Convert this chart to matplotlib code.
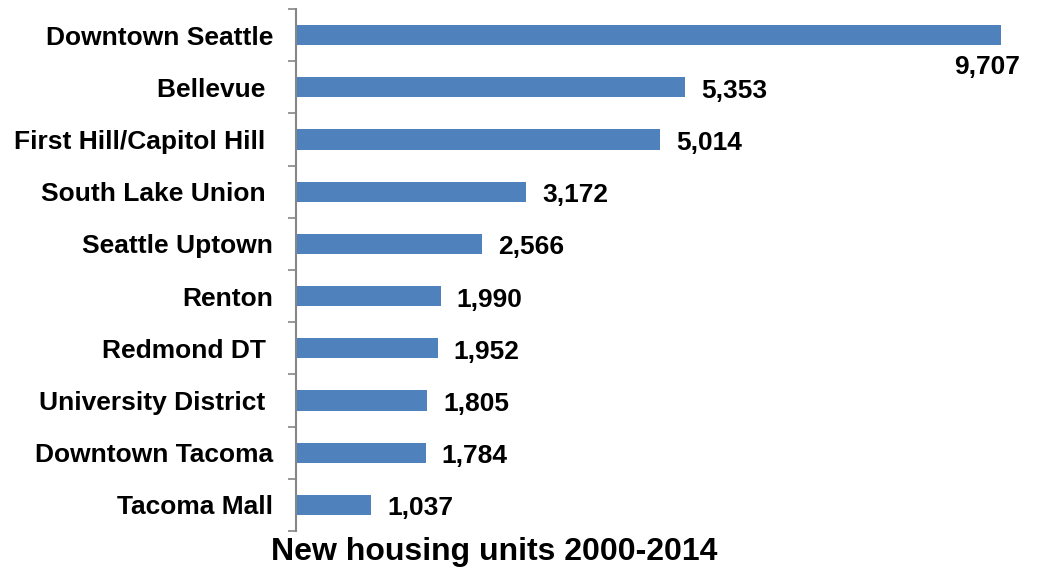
import matplotlib
matplotlib.use("Agg")
import matplotlib.pyplot as plt
import numpy as np

categories = ["Downtown Seattle", "Bellevue ", "First Hill/Capitol Hill ", "South Lake Union ",
              "Seattle Uptown", "Renton", "Redmond DT ", "University District ",
              "Downtown Tacoma", "Tacoma Mall"]
values = [9707, 5353, 5014, 3172, 2566, 1990, 1952, 1805, 1784, 1037]
value_labels = ["9,707", "5,353", "5,014", "3,172", "2,566", "1,990", "1,952", "1,805", "1,784", "1,037"]
title = "New housing units 2000-2014"

plt.rcParams['font.family'] = ['Liberation Sans', 'DejaVu Sans']
fig = plt.figure(figsize=(10.38, 5.67), dpi=100)
ax = fig.add_axes([296/1038, 1-531/567, (1038-296)/1038, 522/567])

n = len(categories)
y = np.arange(n)
ax.barh(y, values, height=0.39, color="#4F81BD", edgecolor="none")
ax.set_ylim(n-0.5, -0.5)
ax.set_xlim(0, 10216)

ax.set_yticks(y)
ax.set_yticklabels(categories, fontsize=19, fontweight='bold')
ax.tick_params(axis='y', which='major', length=0, pad=16.5)
ax.set_yticks(np.arange(-0.5, n, 1), minor=True)
ax.tick_params(axis='y', which='minor', length=6, color="#868686", width=1.2)

for s in ['top', 'right', 'bottom']:
    ax.spines[s].set_visible(False)
ax.spines['left'].set_color("#868686")
ax.spines['left'].set_linewidth(1.5)
ax.set_xticks([])

for i, (v, lab) in enumerate(zip(values, value_labels)):
    if i == 0:
        ax.annotate(lab, (v, i), xytext=(-10, -23), textcoords='offset points',
                    ha='center', va='center', fontsize=19, fontweight='bold')
    else:
        ax.annotate(lab, (v, i), xytext=(11.5, -2.5), textcoords='offset points',
                    ha='left', va='center', fontsize=19, fontweight='bold')

fig.text(494.5/1038, 1-552/567, title, ha='center', va='center', fontsize=23, fontweight='bold')

fig.savefig("out.png", dpi=100)
